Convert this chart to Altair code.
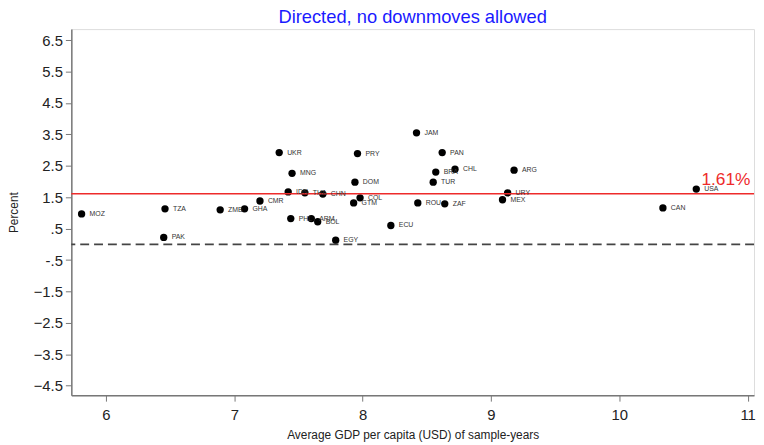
import altair as alt
import pandas as pd

countries = ["MOZ", "PAK", "TZA", "ZMB", "GHA", "CMR", "UKR", "MNG", "IDN", "PHL",
             "THA", "CHN", "ARM", "BOL", "PRY", "DOM", "COL", "GTM", "EGY", "ECU",
             "JAM", "PAN", "BRA", "CHL", "TUR", "ROU", "ZAF", "URY", "MEX", "ARG",
             "CAN", "USA"]
gdp = [5.81, 6.45, 6.46, 6.89, 7.08, 7.20, 7.35, 7.45, 7.42, 7.44,
       7.55, 7.69, 7.60, 7.65, 7.96, 7.94, 7.98, 7.93, 7.79, 8.22,
       8.42, 8.62, 8.57, 8.72, 8.55, 8.43, 8.64, 9.13, 9.09, 9.18,
       10.34, 10.60]
pct = [0.97, 0.22, 1.13, 1.10, 1.13, 1.38, 2.92, 2.26, 1.67, 0.82,
       1.64, 1.60, 0.82, 0.72, 2.89, 1.98, 1.48, 1.32, 0.13, 0.60,
       3.55, 2.92, 2.30, 2.39, 1.98, 1.32, 1.29, 1.64, 1.42, 2.36,
       1.16, 1.76]
mean_value = 1.61
mean_label = "1.61%"
y_ticks = [6.5, 5.5, 4.5, 3.5, 2.5, 1.5, 0.5, -0.5, -1.5, -2.5, -3.5, -4.5]
x_ticks = [6, 7, 8, 9, 10, 11]

df = pd.DataFrame({"country": countries, "gdp": gdp, "pct": pct})

font = "Liberation Sans"
xs = alt.Scale(domain=[5.73, 11.05], nice=False, zero=False)
ys = alt.Scale(domain=[-4.8, 6.85], nice=False, zero=False)

xaxis = alt.Axis(values=x_ticks, tickCount=len(x_ticks), format="d",
                 title="Average GDP per capita (USD) of sample-years",
                 grid=False, domainColor="#777777", domainWidth=1.5, tickColor="#777777",
                 tickSize=6, labelFontSize=15, labelColor="#222222", labelFont=font,
                 titleFont=font, titleFontSize=12, titleFontWeight="normal",
                 titleColor="#222222", labelPadding=7, titlePadding=7, labelFlush=False,
                 labelOverlap=False)
yaxis = alt.Axis(values=y_ticks, tickCount=len(y_ticks), title="Percent", grid=False,
                 domainColor="#777777",
                 domainWidth=1.5, tickColor="#777777", tickSize=6, labelFontSize=15,
                 labelColor="#222222", labelFont=font, titleFont=font, titleFontSize=12,
                 titleFontWeight="normal", titleColor="#222222", labelPadding=3,
                 titlePadding=13, labelOverlap=False,
                 labelExpr="datum.value == 0.5 ? '.5' : (datum.value == -0.5 ? '-.5' : format(datum.value, '.1f'))")

base = alt.Chart(df)

points = base.mark_circle(size=55, color="black", opacity=1).encode(
    x=alt.X("gdp:Q", scale=xs, axis=xaxis),
    y=alt.Y("pct:Q", scale=ys, axis=yaxis),
)
labels = base.mark_text(align="left", baseline="middle", dx=8, fontSize=7,
                        font=font, color="#333333").encode(
    x=alt.X("gdp:Q", scale=xs), y=alt.Y("pct:Q", scale=ys), text="country:N")

zero_df = pd.DataFrame({"y": [0.0]})
zero_line = alt.Chart(zero_df).mark_rule(color="#444444", strokeWidth=1.6,
                                         strokeDash=[9, 5]).encode(y=alt.Y("y:Q", scale=ys))
mean_df = pd.DataFrame({"y": [mean_value], "x": [10.64], "t": [mean_label]})
mean_line = alt.Chart(mean_df).mark_rule(color="#ee2b2b", strokeWidth=1.6).encode(
    y=alt.Y("y:Q", scale=ys))
mean_text = alt.Chart(mean_df).mark_text(align="left", baseline="alphabetic", dy=-9,
                                         fontSize=17.5, font=font, color="#ee2b2b").encode(
    x=alt.X("x:Q", scale=xs), y=alt.Y("y:Q", scale=ys), text="t:N")

chart = alt.layer(points, zero_line, mean_line, labels, mean_text).properties(
    width=690, height=370,
    title=alt.TitleParams("Directed, no downmoves allowed", color="#1a1aff", fontSize=18.5,
                          font=font, fontWeight="normal", anchor="middle", offset=3),
    autosize=alt.AutoSizeParams(type="none"),
    padding={"left": 64, "top": 19, "right": 2, "bottom": 48},
).configure_view(stroke=None).configure(background="white")

chart.save("out.html", embed_options={"renderer": "svg", "actions": False})
